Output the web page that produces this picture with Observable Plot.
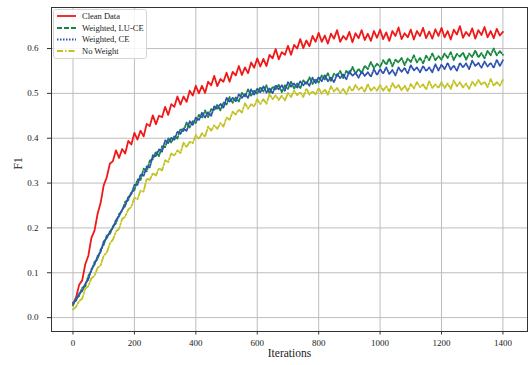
<!DOCTYPE html>
<html><head><meta charset="utf-8">
<script src="https://cdn.jsdelivr.net/npm/d3@7"></script>
<script src="https://cdn.jsdelivr.net/npm/@observablehq/plot@0.6"></script>
<style>
body{margin:0;background:#fff;}
#wrap{position:relative;width:530px;height:365px;}
#legend{position:absolute;left:0;top:0;pointer-events:none;}
</style></head>
<body><div id="wrap"></div>
<script>
const iterations = d3.range(0, 1410, 10);
const xTicks = [0, 200, 400, 600, 800, 1000, 1200, 1400];
const yTicks = [0, 0.1, 0.2, 0.3, 0.4, 0.5, 0.6];
const seriesNames = ["Clean Data", "Weighted, LU-CE", "Weighted, CE", "No Weight"];

const cleanData = [
0.030,0.045,0.073,0.083,0.119,0.138,0.178,0.194,0.231,0.256,
0.295,0.313,0.343,0.349,0.373,0.356,0.376,0.366,0.394,0.386,
0.412,0.397,0.417,0.404,0.432,0.427,0.451,0.431,0.450,0.447,
0.470,0.452,0.476,0.470,0.493,0.475,0.493,0.481,0.506,0.495,
0.517,0.500,0.517,0.501,0.526,0.518,0.539,0.516,0.532,0.526,
0.546,0.526,0.548,0.540,0.561,0.541,0.558,0.545,0.569,0.557,
0.578,0.560,0.577,0.561,0.586,0.578,0.599,0.576,0.592,0.586,
0.606,0.586,0.608,0.600,0.621,0.601,0.618,0.605,0.628,0.615,
0.635,0.615,0.629,0.611,0.633,0.622,0.641,0.615,0.628,0.620,
0.637,0.614,0.634,0.623,0.641,0.619,0.633,0.617,0.639,0.624,
0.642,0.621,0.636,0.617,0.639,0.628,0.647,0.621,0.634,0.625,
0.642,0.620,0.639,0.628,0.646,0.623,0.638,0.622,0.643,0.628,
0.646,0.625,0.639,0.620,0.642,0.631,0.650,0.624,0.637,0.628,
0.645,0.622,0.641,0.630,0.648,0.625,0.639,0.623,0.644,0.629,
0.637];

const weightedLUCE = [
0.027,0.044,0.048,0.067,0.070,0.093,0.104,0.124,0.130,0.152,
0.162,0.183,0.186,0.204,0.210,0.231,0.238,0.258,0.262,0.280,
0.284,0.308,0.307,0.332,0.326,0.350,0.353,0.370,0.360,0.382,
0.380,0.400,0.390,0.405,0.399,0.421,0.416,0.435,0.424,0.438,
0.434,0.452,0.445,0.462,0.447,0.465,0.462,0.475,0.462,0.480,
0.475,0.492,0.479,0.491,0.482,0.501,0.493,0.509,0.495,0.506,
0.499,0.514,0.504,0.518,0.500,0.515,0.509,0.519,0.503,0.518,
0.510,0.526,0.511,0.522,0.511,0.529,0.520,0.536,0.521,0.532,
0.524,0.540,0.531,0.545,0.528,0.544,0.539,0.550,0.534,0.550,
0.543,0.559,0.544,0.555,0.545,0.562,0.554,0.570,0.556,0.566,
0.559,0.574,0.564,0.578,0.560,0.575,0.569,0.579,0.563,0.578,
0.570,0.585,0.569,0.579,0.567,0.584,0.574,0.589,0.574,0.583,
0.575,0.589,0.579,0.592,0.574,0.588,0.582,0.591,0.575,0.589,
0.581,0.596,0.580,0.590,0.578,0.595,0.585,0.600,0.585,0.594,
0.586];

const weightedCE = [
0.033,0.038,0.054,0.059,0.076,0.085,0.108,0.118,0.137,0.146,
0.170,0.177,0.192,0.200,0.218,0.226,0.241,0.249,0.269,0.275,
0.296,0.296,0.319,0.316,0.337,0.335,0.362,0.360,0.375,0.370,
0.395,0.389,0.401,0.396,0.415,0.410,0.422,0.416,0.438,0.429,
0.446,0.440,0.457,0.446,0.458,0.450,0.471,0.465,0.477,0.468,
0.490,0.481,0.490,0.482,0.498,0.490,0.499,0.490,0.509,0.497,
0.511,0.502,0.516,0.502,0.511,0.500,0.518,0.509,0.518,0.506,
0.525,0.515,0.522,0.513,0.527,0.518,0.526,0.517,0.535,0.523,
0.536,0.527,0.541,0.527,0.536,0.525,0.543,0.534,0.543,0.531,
0.550,0.539,0.546,0.535,0.549,0.539,0.547,0.537,0.554,0.541,
0.554,0.544,0.558,0.543,0.552,0.540,0.558,0.548,0.557,0.544,
0.563,0.551,0.558,0.547,0.561,0.550,0.558,0.547,0.565,0.551,
0.564,0.554,0.568,0.553,0.562,0.550,0.568,0.558,0.567,0.554,
0.573,0.561,0.568,0.557,0.571,0.560,0.568,0.557,0.575,0.561,
0.574];

const noWeight = [
0.018,0.024,0.037,0.042,0.065,0.070,0.088,0.093,0.111,0.117,
0.138,0.145,0.165,0.174,0.192,0.198,0.220,0.225,0.241,0.247,
0.267,0.264,0.283,0.281,0.310,0.307,0.322,0.317,0.333,0.328,
0.351,0.347,0.366,0.361,0.373,0.367,0.390,0.380,0.392,0.389,
0.407,0.398,0.411,0.403,0.426,0.417,0.429,0.421,0.434,0.426,
0.446,0.441,0.459,0.453,0.464,0.457,0.478,0.466,0.476,0.471,
0.487,0.476,0.487,0.477,0.498,0.487,0.496,0.485,0.495,0.484,
0.501,0.492,0.506,0.496,0.503,0.492,0.511,0.497,0.505,0.498,
0.512,0.499,0.509,0.497,0.516,0.504,0.512,0.501,0.510,0.498,
0.515,0.505,0.519,0.508,0.514,0.503,0.521,0.506,0.514,0.506,
0.519,0.506,0.516,0.504,0.523,0.511,0.519,0.507,0.517,0.505,
0.521,0.511,0.525,0.514,0.520,0.509,0.527,0.512,0.520,0.512,
0.525,0.512,0.522,0.510,0.529,0.516,0.525,0.513,0.522,0.510,
0.526,0.517,0.530,0.519,0.526,0.514,0.532,0.517,0.525,0.517,
0.530];

const seriesValues = [cleanData, weightedLUCE, weightedCE, noWeight];
const seriesColors = ["#f01818", "#17883f", "#2e52b2", "#c2c223"];
const seriesDash = [null, "5,2", "1.5,1.5", "6,2,1.5,2"];

const series = seriesNames.map((name, k) => ({
  name, color: seriesColors[k], dash: seriesDash[k],
  rows: iterations.map((it, i) => ({it, v: seriesValues[k][i]}))
}));

const font = "Liberation Serif, Times New Roman, serif";

const chart = Plot.plot({
  width: 530, height: 365,
  marginLeft: 51, marginRight: 3, marginTop: 7, marginBottom: 34,
  style: {fontFamily: font, fontSize: "9px", color: "#222", background: "white"},
  x: {domain: [-70, 1480]},
  y: {domain: [-0.031, 0.6915]},
  marks: [
    Plot.gridX(xTicks, {stroke: "#bdbdbd", strokeOpacity: 1, strokeWidth: 1}),
    Plot.gridY(yTicks, {stroke: "#bdbdbd", strokeOpacity: 1, strokeWidth: 1}),
    ...series.map(s => Plot.line(s.rows, {x: "it", y: "v", stroke: s.color, strokeWidth: 1.8, strokeDasharray: s.dash})),
    Plot.frame({stroke: "#333", strokeWidth: 1}),
    Plot.axisX(xTicks, {tickSize: 3.5, tickPadding: 5, label: null, tickFormat: d => String(d), stroke: "#333"}),
    Plot.axisY(yTicks, {tickSize: 4, tickPadding: 9, label: null, tickFormat: d3.format(".1f"), stroke: "#333"}),
    Plot.text(["Iterations"], {frameAnchor: "bottom", dy: 25, text: d => d, fontSize: 11.5, fill: "#222"}),
    Plot.text(["F1"], {frameAnchor: "left", dx: -33, text: d => d, fontSize: 11.5, rotate: -90, fill: "#222"})
  ]
});

const wrap = document.getElementById("wrap");
wrap.appendChild(chart);

// Legend overlay
const ns = "http://www.w3.org/2000/svg";
const lg = document.createElementNS(ns, "svg");
lg.setAttribute("id", "legend");
lg.setAttribute("width", 530);
lg.setAttribute("height", 365);
const box = document.createElementNS(ns, "rect");
box.setAttribute("x", 53.5); box.setAttribute("y", 9.5);
box.setAttribute("width", 93); box.setAttribute("height", 49);
box.setAttribute("rx", 2);
box.setAttribute("fill", "white"); box.setAttribute("fill-opacity", 0.85);
box.setAttribute("stroke", "#d4d4d4");
lg.appendChild(box);
const rowY = [16, 28, 39.5, 51];
series.forEach((s, k) => {
  const ln = document.createElementNS(ns, "line");
  ln.setAttribute("x1", 57); ln.setAttribute("x2", 76);
  ln.setAttribute("y1", rowY[k]); ln.setAttribute("y2", rowY[k]);
  ln.setAttribute("stroke", s.color); ln.setAttribute("stroke-width", 1.8);
  if (s.dash) ln.setAttribute("stroke-dasharray", s.dash);
  lg.appendChild(ln);
  const tx = document.createElementNS(ns, "text");
  tx.setAttribute("x", 82); tx.setAttribute("y", rowY[k]);
  tx.setAttribute("dy", "0.32em");
  tx.setAttribute("font-family", font);
  tx.setAttribute("font-size", 8.5);
  tx.setAttribute("fill", "#222");
  tx.textContent = s.name;
  lg.appendChild(tx);
});
wrap.appendChild(lg);
</script>
</body></html>
